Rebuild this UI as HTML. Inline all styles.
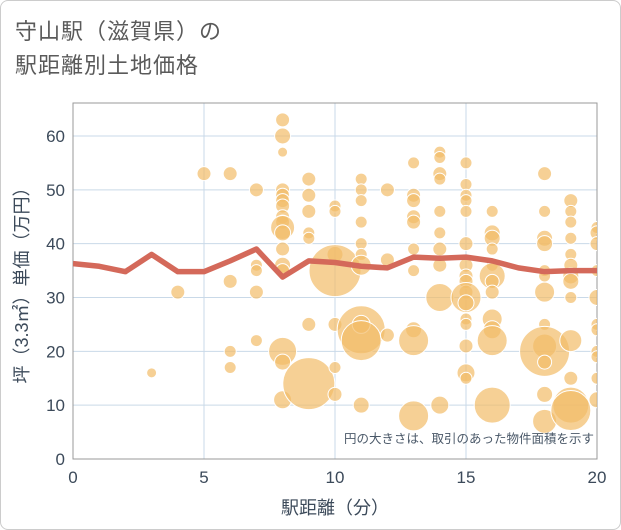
<!DOCTYPE html>
<html><head><meta charset="utf-8"><style>
body{margin:0;background:#fff;}
.wrap{position:relative;width:619px;height:528px;border:1px solid #ccc;border-radius:8px;overflow:hidden;font-family:"Liberation Sans","Noto Sans CJK JP",sans-serif;}
.title{position:absolute;left:14px;top:14px;font-size:22px;line-height:34px;color:#5a5a5a;letter-spacing:1px}
</style></head><body>
<div class="wrap">
<div class="title">守山駅（滋賀県）の<br>駅距離別土地価格</div>
<svg id="c" width="621" height="530" style="position:absolute;left:-1px;top:-1px"></svg>
</div>
<script>
const xTicks=[0,5,10,15,20];
const yTicks=[0,10,20,30,40,50,60];
const lineX=[0,1,2,3,4,5,6,7,8,9,10,11,12,13,14,15,16,17,18,19,20];
const lineY=[36.3,35.8,34.8,38,34.8,34.8,36.8,39,33.8,36.8,36.5,35.8,35.5,37.5,37.3,37.5,36.8,35.5,34.8,35,35];
const bubbleX=[3,4,5,6,6,6,6,7,7,7,7,7,8,8,8,8,8,8,8,8,8,8,8,8,8,8,8,8,8,9,9,9,9,9,9,9,10,10,10,10,10,10,10,11,11,11,11,11,11,11,11,11,11,11,12,12,12,13,13,13,13,13,13,13,13,13,13,14,14,14,14,14,14,14,14,14,14,15,15,15,15,15,15,15,15,15,15,15,15,15,15,15,15,15,16,16,16,16,16,16,16,16,16,16,16,16,18,18,18,18,18,18,18,18,18,18,18,18,18,19,19,19,19,19,19,19,19,19,19,19,19,19,20,20,20,20,20,20,20,20,20,20,20];
const bubbleY=[16,31,53,53,33,20,17,50,36,35,31,22,63,60,57,50,49,48,47,45,44,43,42,39,36,35,20,18,11,52,49,46,42,41,25,14,47,46,38,35,25,17,12,52,50,48,44,40,38,36,24,25,22,10,50,37,23,55,49,48,45,44,39,35,24,22,8,57,56,53,52,46,42,39,36,30,10,55,51,49,48,46,40,36,34,33,31,30,29,26,25,21,16,15,46,42,41,39,36,34,33,31,26,24,22,10,53,46,41,40,35,34,31,25,21,20,18,12,7,48,46,44,41,38,36,34,33,30,22,15,10,9,43,42,40,35,30,25,24,20,19,15,11];
const bubbleSize=[5,7,7,7,7,6,6,7,6,6,7,6,7,8,5,7,7,7,7,7,7,12,8,7,8,7,14,8,9,7,7,7,6,6,7,26,6,6,8,26,7,6,7,6,6,6,6,6,6,10,24,9,20,8,7,7,7,6,7,7,7,7,6,6,8,15,15,6,6,7,6,6,6,7,7,14,9,6,6,6,6,6,7,7,7,7,7,15,8,6,6,7,9,6,6,8,8,6,6,13,7,7,10,9,15,18,7,6,8,8,6,6,10,6,12,25,7,8,12,7,6,6,6,6,7,8,8,6,11,7,18,20,6,7,7,6,8,6,6,6,6,6,8];
const L=73,R=597,T=103,B=459;
const sx=v=>L+(v-0)/20*(R-L);
const sy=v=>B-v/60*(B-136);
const svg=document.getElementById('c');const NS='http://www.w3.org/2000/svg';
function mk(t,a,p){const e=document.createElementNS(NS,t);for(const k in a)e.setAttribute(k,a[k]);(p||svg).appendChild(e);return e;}
const clip=mk('clipPath',{id:'pc'});mk('rect',{x:L,y:T,width:R-L,height:B-T},clip);
xTicks.forEach(v=>{const g=mk('line',{x1:sx(v),x2:sx(v),y1:T,y2:B,stroke:'#c9d9e8','stroke-width':1});


const t=mk('text',{x:sx(v),y:B+24,'text-anchor':'middle','font-size':17,fill:'#3c4a5a'});t.textContent=v;

});
yTicks.forEach(v=>{const g=mk('line',{x1:L,x2:R,y1:sy(v),y2:sy(v),stroke:'#c9d9e8','stroke-width':1});


const t=mk('text',{x:L-8,y:sy(v)+6,'text-anchor':'end','font-size':17,fill:'#3c4a5a'});t.textContent=v;

});
const fr=mk('rect',{x:L,y:T,width:R-L,height:B-T,fill:'none',stroke:'#999','stroke-width':1});


const bg=mk('g',{'clip-path':'url(#pc)'});
bubbleX.forEach((x,i)=>{const c=mk('circle',{cx:sx(x),cy:sy(bubbleY[i]),r:bubbleSize[i],fill:'#f2bc68','fill-opacity':0.7,stroke:'#fff','stroke-width':1},bg);

});
const pl=mk('polyline',{points:lineX.map((x,i)=>sx(x)+','+sy(lineY[i])).join(' '),fill:'none',stroke:'#d4695a','stroke-width':5.5,'stroke-linejoin':'round'},bg);


const note=mk('text',{x:594,y:443,'text-anchor':'end','font-size':12.5,fill:'#4a5868'});note.textContent='円の大きさは、取引のあった物件面積を示す';


const xt=mk('text',{x:(L+R)/2,y:514,'text-anchor':'middle','font-size':18,fill:'#3c4a5a'});xt.textContent='駅距離（分）';


const yt=mk('text',{x:0,y:0,'text-anchor':'middle','font-size':18,fill:'#3c4a5a',transform:'translate(28,'+((T+B)/2)+') rotate(-90)'});yt.textContent='坪（3.3㎡）単価（万円）';


</script>
</body></html>
